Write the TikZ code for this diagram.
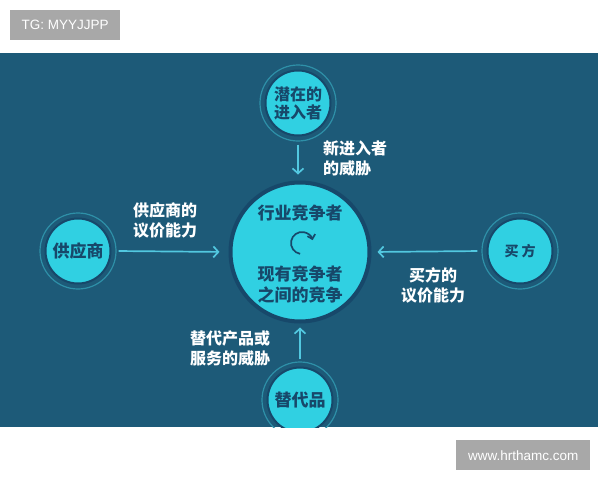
\documentclass[tikz,border=0pt]{standalone}
\usepackage{fontspec}
\setmainfont{Liberation Sans}
\newfontfamily\cjk{Noto Sans CJK SC}
\usetikzlibrary{arrows.meta}
\definecolor{panel}{HTML}{1D5A78}
\definecolor{cyanf}{HTML}{30D0E2}
\definecolor{navy}{HTML}{17486A}
\definecolor{ringc}{HTML}{2E90A8}
\definecolor{arrowc}{HTML}{52C8E0}
\definecolor{wmgray}{HTML}{A8A8A8}
\tikzset{
  x=1pt,y=-1pt,
  ringnode/.style={circle,draw=ringc,line width=1.2pt,minimum size=76pt,inner sep=0pt},
  smallnode/.style={circle,fill=cyanf,draw=navy,line width=2pt,minimum size=65pt,inner sep=0pt,
    font=\cjk\bfseries\fontsize{17}{19}\selectfont,text=navy,align=center},
  bignode/.style={circle,fill=cyanf,draw=navy,line width=4pt,minimum size=139pt,inner sep=0pt},
  innertext/.style={font=\cjk\bfseries\fontsize{17}{21}\selectfont,text=navy,align=center,inner sep=0pt},
  lbl/.style={font=\cjk\bfseries\fontsize{16}{20}\selectfont,text=white,align=left,inner sep=0pt},
  conn/.style={draw=arrowc,line width=1.7pt,-{Straight Barb[length=5pt,width=11pt,line width=1.7pt]}},
  wm/.style={fill=wmgray,text=white,font=\fontsize{13.5}{15}\selectfont,inner sep=0pt,anchor=north west}
}
\begin{document}
\begin{tikzpicture}
\useasboundingbox (0,0) rectangle (600,480);
\fill[white] (0,0) rectangle (600,480);
\begin{scope}
\clip (0,53) rectangle (598,427);
\fill[panel] (0,53) rectangle (598,427);
% center
\node[bignode] (center) at (300,252) {};
\node[innertext] (c1) at (300,213) {行业竞争者};
\node[innertext] (c2) at (300,285) {现有竞争者\\之间的竞争};
\coordinate (cc) at (302,243);
\draw[navy,line width=1.7pt,-{Straight Barb[length=4pt,width=8pt,line width=1.7pt]}] ([shift={(100:11)}]cc) arc[start angle=100,end angle=345,radius=11];
% outer nodes
\node[ringnode] (topR) at (298,103) {};
\node[smallnode,font=\cjk\bfseries\fontsize{16}{18}\selectfont] (top) at (298,103) {潜在的\\进入者};
\node[ringnode] (leftR) at (78,251) {};
\node[smallnode] (left) at (78,251) {供应商};
\node[ringnode] (rightR) at (520,251) {};
\node[smallnode,font=\cjk\bfseries\fontsize{14}{16}\selectfont] (right) at (520,251) {买\hspace{3pt}方};
\node[ringnode] (botR) at (300,400) {};
\node[smallnode] (bot) at (300,400) {替代品};
% connectors
\draw[conn,shorten <=3pt,shorten >=6pt] (topR.south) -- (center.north -| topR.south);
\draw[conn,shorten <=2pt,shorten >=9pt] (leftR.east) -- (center.west);
\draw[conn,shorten <=4pt,shorten >=6pt] (rightR.west) -- (center.east);
\draw[conn,shorten <=2pt,shorten >=4pt] (botR.north) -- (center.south);
% labels
\node[lbl] (l1) at (355,158) {新进入者\\的威胁};
\node[lbl] (l2) at (165,220) {供应商的\\议价能力};
\node[lbl,align=center] (l3) at (433,285) {买方的\\议价能力};
\node[lbl] (l4) at (230,348) {替代产品或\\服务的威胁};
\end{scope}
% watermarks
\node[wm,minimum width=110pt,minimum height=30pt] (wm1) at (10,10) {TG: MYYJJPP};
\node[wm,minimum width=134pt,minimum height=30pt] (wm2) at (456,440) {www.hrthamc.com};
\end{tikzpicture}
\end{document}
